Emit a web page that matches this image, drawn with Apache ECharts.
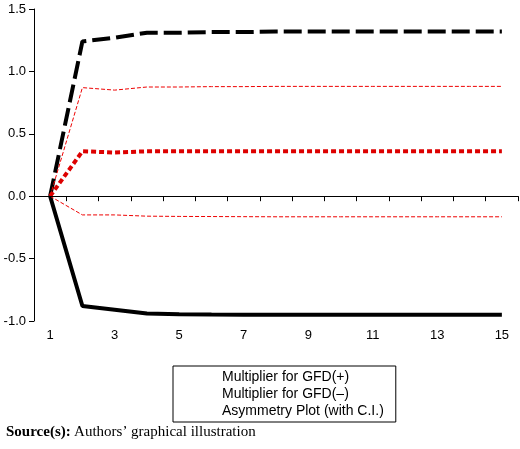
<!DOCTYPE html><html><head><meta charset="utf-8"><script src="https://cdn.jsdelivr.net/npm/echarts@6/dist/echarts.min.js"></script></head><body style="margin:0;background:#fff"><div id="c" style="width:520px;height:449px"></div><script>
const categories=['1','2','3','4','5','6','7','8','9','10','11','12','13','14','15'];
const gfdPos=[0,-0.88,-0.91,-0.94,-0.945,-0.948,-0.95,-0.95,-0.95,-0.95,-0.95,-0.95,-0.95,-0.95,-0.95];
const gfdNeg=[0,1.24,1.27,1.31,1.31,1.315,1.315,1.32,1.32,1.32,1.32,1.32,1.32,1.32,1.32];
const asym=[0,0.36,0.35,0.36,0.36,0.36,0.36,0.36,0.36,0.36,0.36,0.36,0.36,0.36,0.36];
const upper=[0,0.87,0.85,0.875,0.875,0.878,0.878,0.88,0.88,0.88,0.88,0.88,0.88,0.88,0.88];
const lower=[0,-0.15,-0.15,-0.16,-0.162,-0.163,-0.164,-0.165,-0.165,-0.165,-0.165,-0.165,-0.165,-0.165,-0.165];
const f='Liberation Sans, Arial, sans-serif';
const c=echarts.init(document.getElementById('c'));
c.setOption({animation:false,
grid:{left:34,right:2,top:9,bottom:128},
xAxis:{type:'category',data:categories,boundaryGap:true,
 axisLine:{lineStyle:{color:'#000'}},axisTick:{show:true,interval:0,length:5,lineStyle:{color:'#000'}},
 axisLabel:{interval:1,color:'#000',fontFamily:f,fontSize:13}},
yAxis:{type:'value',min:-1,max:1.5,interval:0.5,
 axisLine:{show:true,lineStyle:{color:'#000'}},axisTick:{show:true,length:5,lineStyle:{color:'#000'}},
 splitLine:{show:false},axisLabel:{color:'#000',fontFamily:f,fontSize:13,formatter:v=>v.toFixed(1)}},
legend:{left:173,top:366,orient:'vertical',itemGap:3,itemWidth:36,itemHeight:6,icon:'none',
 borderColor:'#000',borderWidth:1,padding:[4,12,4,8],textStyle:{fontFamily:f,fontSize:14,color:'#000'},
 data:['Multiplier for GFD(+)','Multiplier for GFD(–)','Asymmetry Plot (with C.I.)']},
graphic:[{type:'text',left:6,top:425,style:{rich:{b:{fontWeight:'bold',fontFamily:'Liberation Serif',fontSize:15},n:{fontFamily:'Liberation Serif',fontSize:15}},text:'{b|Source(s):} {n|Authors’ graphical illustration}',fill:'#000'}}],
series:[
{name:'Multiplier for GFD(+)',type:'line',data:gfdPos,symbol:'none',lineStyle:{color:'#000',width:4},itemStyle:{color:'#000'},markLine:{silent:true,symbol:'none',label:{show:false},lineStyle:{color:'#000',width:1,type:'solid'},data:[{yAxis:0}]}},
{name:'Multiplier for GFD(–)',type:'line',data:gfdNeg,symbol:'none',lineStyle:{color:'#000',width:4,type:[18,6]},itemStyle:{color:'#000'}},
{name:'Asymmetry Plot (with C.I.)',type:'line',data:asym,symbol:'none',lineStyle:{color:'#d00',width:4,type:[5,3]},itemStyle:{color:'#d00'}},
{name:'upper',type:'line',data:upper,symbol:'none',lineStyle:{color:'#e00',width:1,type:[4,2]}},
{name:'lower',type:'line',data:lower,symbol:'none',lineStyle:{color:'#e00',width:1,type:[4,2]}}
]});
</script></body></html>
